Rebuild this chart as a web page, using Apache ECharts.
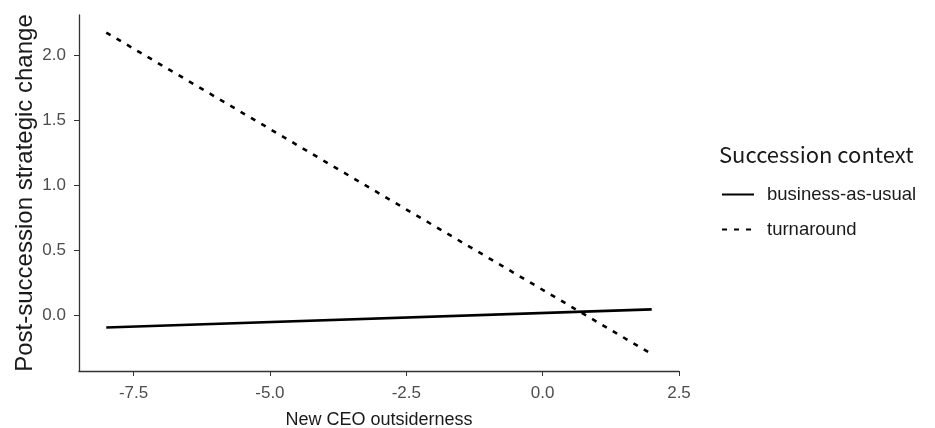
<!DOCTYPE html>
<html><head><meta charset="utf-8">
<script src="https://cdn.jsdelivr.net/npm/echarts@6/dist/echarts.min.js"></script>
<style>html,body{margin:0;padding:0;background:#fff}#c{width:935px;height:428px}</style>
</head><body><div id="c"></div>
<script>
const xEnds = [-8, 2];
const businessAsUsual = [-0.095, 0.044];
const turnaround = [2.175, -0.30];
const seriesNames = ['business-as-usual', 'turnaround'];
const xTicks = [-7.5, -5.0, -2.5, 0.0, 2.5];
const yTicks = [0.0, 0.5, 1.0, 1.5, 2.0];

const chart = echarts.init(document.getElementById('c'));
const pairs = (ys) => xEnds.map((x, i) => [x, ys[i]]);
chart.setOption({
  animation: false,
  grid: {left: 79, right: 256, top: 15, bottom: 57, outerBoundsMode: 'none', containLabel: false},
  xAxis: {
    type: 'value', min: -8.5, max: 2.5,
    name: 'New CEO outsiderness', nameLocation: 'middle', nameGap: 40, nameMoveOverlap: false,
    nameTextStyle: {color: '#1a1a1a', fontSize: 18, fontFamily: 'Liberation Sans'},
    axisLine: {show: true, onZero: false, lineStyle: {color: '#333', width: 1.3}},
    axisTick: {show: true, length: 5, lineStyle: {color: '#333'}, customValues: xTicks},
    axisLabel: {color: '#4d4d4d', fontSize: 17, fontFamily: 'Liberation Sans', margin: 14,
      customValues: xTicks, formatter: v => v.toFixed(1)},
    splitLine: {show: false}
  },
  yAxis: {
    type: 'value', min: -0.43, max: 2.31,
    name: 'Post-succession strategic change', nameLocation: 'middle', nameGap: 42, nameMoveOverlap: false,
    nameTextStyle: {color: '#1a1a1a', fontSize: 24, fontFamily: 'Liberation Sans'},
    axisLine: {show: true, onZero: false, lineStyle: {color: '#333', width: 1.3}},
    axisTick: {show: true, length: 5, lineStyle: {color: '#333'}, customValues: yTicks},
    axisLabel: {color: '#4d4d4d', fontSize: 17, fontFamily: 'Liberation Sans', margin: 13,
      customValues: yTicks, formatter: v => v.toFixed(1)},
    splitLine: {show: false}
  },
  title: {
    text: 'Succession context', left: 714, top: 139,
    textStyle: {fontSize: 22, fontWeight: 'normal', color: '#1a1a1a', fontFamily: 'Noto Sans CJK SC'}
  },
  legend: {
    orient: 'vertical', left: 716, top: 180, itemGap: 16,
    itemWidth: 32, itemHeight: 18,
    data: seriesNames,
    itemStyle: {opacity: 0},
    textStyle: {fontSize: 18.5, color: '#1a1a1a', fontFamily: 'Liberation Sans', padding: [0, 0, 0, 8]}
  },
  series: [
    {name: seriesNames[0], type: 'line', data: pairs(businessAsUsual), symbol: 'none',
     lineStyle: {color: '#000', width: 2.6, type: 'solid'}, itemStyle: {color: '#000'}},
    {name: seriesNames[1], type: 'line', data: pairs(turnaround), symbol: 'none',
     lineStyle: {color: '#000', width: 2.6, type: [5, 7]}, itemStyle: {color: '#000'}}
  ]
});
</script></body></html>
